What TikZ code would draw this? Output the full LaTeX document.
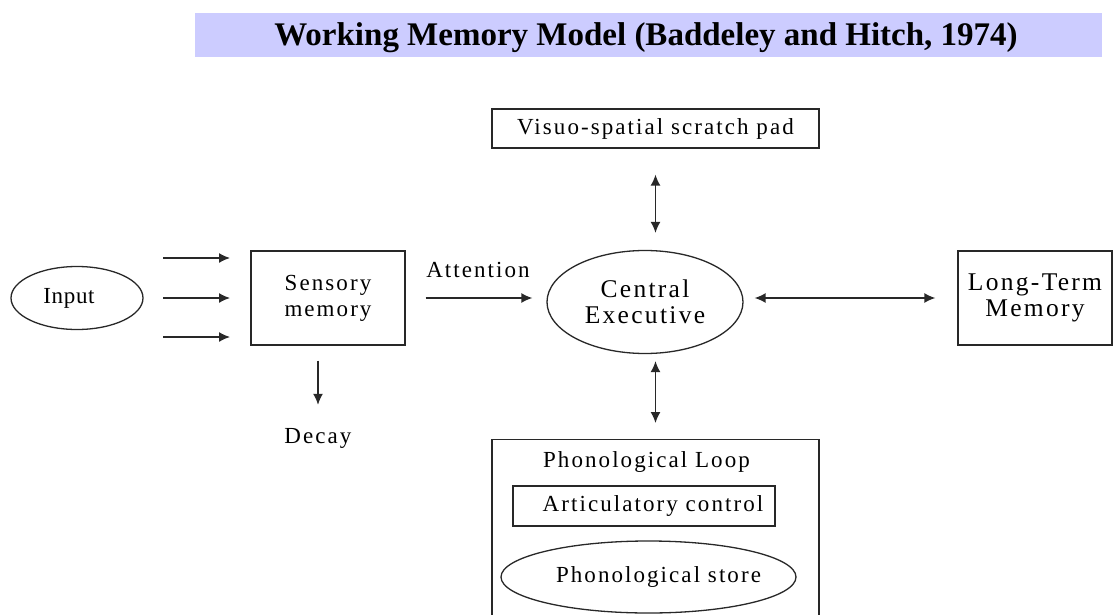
\documentclass[tikz,border=0pt]{standalone}
\usepackage{fontspec}
\setmainfont{Liberation Serif}
\newfontfamily\spaced[LetterSpace=9]{Liberation Serif}
\newfontfamily\spacedsmall[LetterSpace=3]{Liberation Serif}
\usetikzlibrary{arrows.meta,shapes.geometric}
\definecolor{bandblue}{RGB}{204,204,255}
\definecolor{linegray}{RGB}{40,40,40}
\begin{document}
\begin{tikzpicture}[x=1pt,y=-1pt,
  box/.style={draw=linegray, line width=1.3pt, inner sep=0pt},
  lbl/.style={font=\spaced\fontsize{23}{26}\selectfont, align=center, inner sep=0pt},
  biglbl/.style={font=\spaced\fontsize{25.5}{26}\selectfont, align=center, inner sep=0pt},
  tip/.tip={Latex[length=11pt,width=10pt]},
  conn/.style={-tip, line width=1.4pt, draw=linegray},
  biconn/.style={tip-tip, line width=1.4pt, draw=linegray}]
\useasboundingbox (0,0) rectangle (1113,615);
\clip (0,0) rectangle (1113,615);
\fill[white] (0,0) rectangle (1113,615);
% title
\node[fill=bandblue, minimum width=907pt, minimum height=44pt, inner sep=0pt] (title) at (648.5,35) {};
\node[inner sep=0pt, font=\bfseries\fontsize{33}{36}\selectfont] (titletext) at (646,38) {Working Memory Model (Baddeley and Hitch, 1974)};
% nodes
\node[ellipse, box, minimum width=132pt, minimum height=63pt, font=\spacedsmall\fontsize{23}{26}\selectfont] (input) at (77,298) {Input\hspace*{16pt}};
\node[box, lbl, minimum width=154pt, minimum height=94pt] (sens) at (328,298) {Sensory\\memory};
\node[lbl] (decay) at (318,438) {Decay};
\node[lbl] (att) at (478,270) {Attention};
\node[ellipse, box, minimum width=196pt, minimum height=103pt,
      label={[biglbl]center:{Central\\Executive}}] (ce) at (645,302) {};
\node[box, lbl, minimum width=327pt, minimum height=39pt] (vis) at (655.5,128.5) {Visuo-spatial scratch pad};
\node[box, minimum width=154pt, minimum height=94pt,
      label={[biglbl]center:{Long-Term\\Memory}}] (ltm) at (1035,298) {};
\node[box, minimum width=327pt, minimum height=200pt, anchor=north] (phono) at (655.5,439) {};
\node[lbl] (ploop) at (646.5,462) {Phonological Loop};
\node[box, lbl, minimum width=262pt, minimum height=40pt] (artic) at (644,506) {\hspace*{18pt}Articulatory control};
\node[ellipse, box, minimum width=295pt, minimum height=72pt,
      label={[lbl, xshift=10pt]center:{Phonological store}}] (store) at (648.5,577) {};
% input arrows
\coordinate (i1s) at (163,258); \coordinate (i1e) at (230,258);
\coordinate (i2s) at (163,298); \coordinate (i2e) at (230,298);
\coordinate (i3s) at (163,337); \coordinate (i3e) at (230,337);
\draw[conn] (i1s) -- (i1e);
\draw[conn] (i2s) -- (i2e);
\draw[conn] (i3s) -- (i3e);
% connectors
\draw[conn, shorten <=15pt, shorten >=23pt] (sens.south -| decay) -- (decay.north);
\draw[conn, shorten <=20pt, shorten >=14pt] (sens.east) -- (sens.east -| ce.west);
\draw[biconn, shorten <=11pt, shorten >=22pt] (ltm.west -| ce.east) -- (ltm.west);
\draw[biconn, shorten <=26pt, shorten >=17pt] (vis.south) -- (vis.south |- ce.north);
\draw[biconn, shorten <=7pt, shorten >=16pt] (phono.north |- ce.south) -- (phono.north);
\end{tikzpicture}
\end{document}
